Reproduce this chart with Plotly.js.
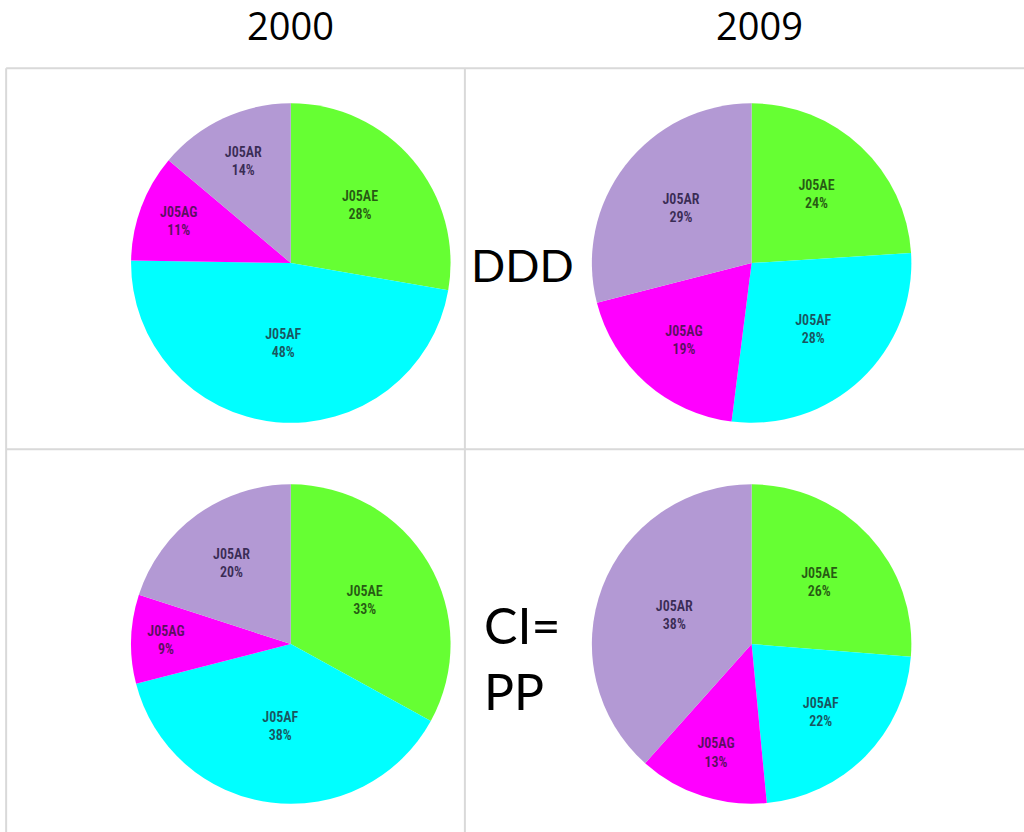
<!DOCTYPE html>
<html><head><meta charset="utf-8">
<script src="https://cdn.plot.ly/plotly-3.0.1.min.js"></script>
<style>html,body{margin:0;padding:0;background:#fff}#chart{width:1024px;height:832px}</style>
</head><body><div id="chart"></div>
<script>
const categories = ["J05AE", "J05AF", "J05AG", "J05AR"];
const ddd2000 = [28, 48, 11, 14];
const ddd2009 = [24, 28, 19, 29];
const cipp2000 = [33, 38, 9, 20];
const cipp2009 = [26, 22, 13, 38];
const columnTitles = ["2000", "2009"];
const rowTitles = ["DDD", "CI=", "PP"];

const sliceColors = ["#66ff33", "#00ffff", "#ff00ff", "#b399d4"];
const textColors = ["#285a14", "#1a5560", "#5a1060", "#3a2c55"];
const labelFont = {family: "'Liberation Sans Narrow', 'Arial Narrow', 'Roboto Condensed', Arial, sans-serif", size: 14, weight: 600, color: textColors};

function pie(values, dx, dy) {
  return {
    type: "pie", values: values, labels: categories, sort: false,
    direction: "clockwise", rotation: 0,
    marker: {colors: sliceColors, line: {width: 0}},
    texttemplate: "%{label}<br>%{value}%", textposition: "inside",
    insidetextorientation: "horizontal", insidetextfont: labelFont,
    hoverinfo: "label+value", showlegend: false,
    domain: {x: dx, y: dy}
  };
}
const colL = [0.128, 0.440], colR = [0.578, 0.890];
const rowT = [0.4916, 0.876], rowB = [0.0337, 0.418];
const data = [
  pie(ddd2000, colL, rowT), pie(ddd2009, colR, rowT),
  pie(cipp2000, colL, rowB), pie(cipp2009, colR, rowB)
];
const lineStyle = {color: "#d9d9d9", width: 2};
const titleFont = {family: "'Open Sans', 'Noto Sans', sans-serif", size: 38, color: "#000"};
const rowFont = {family: "Lato, 'Open Sans', sans-serif", size: 50, color: "#000"};
const dddFont = {family: "Lato, 'Open Sans', sans-serif", size: 45, color: "#000"};
function note(text, x, y, font, xanchor) {
  return {text: text, x: x, y: y, xref: "paper", yref: "paper", showarrow: false,
          xanchor: xanchor || "center", yanchor: "middle", font: font};
}
const layout = {
  width: 1024, height: 832, margin: {l: 0, r: 0, t: 0, b: 0},
  paper_bgcolor: "#fff", showlegend: false,
  shapes: [
    {type: "line", xref: "paper", yref: "paper", x0: 0.006, x1: 1, y0: 0.918, y1: 0.918, line: lineStyle},
    {type: "line", xref: "paper", yref: "paper", x0: 0.006, x1: 1, y0: 0.460, y1: 0.460, line: lineStyle},
    {type: "line", xref: "paper", yref: "paper", x0: 0.006, x1: 0.006, y0: 0, y1: 0.918, line: lineStyle},
    {type: "line", xref: "paper", yref: "paper", x0: 0.454, x1: 0.454, y0: 0, y1: 0.918, line: lineStyle}
  ],
  annotations: [
    note(columnTitles[0], 0.284, 0.970, titleFont),
    note(columnTitles[1], 0.742, 0.970, titleFont),
    note(rowTitles[0], 0.510, 0.682, dddFont),
    note(rowTitles[1], 0.471, 0.249, rowFont, "left"),
    note(rowTitles[2], 0.471, 0.169, rowFont, "left")
  ]
};
Plotly.newPlot("chart", data, layout, {displayModeBar: false, staticPlot: true});
</script></body></html>
